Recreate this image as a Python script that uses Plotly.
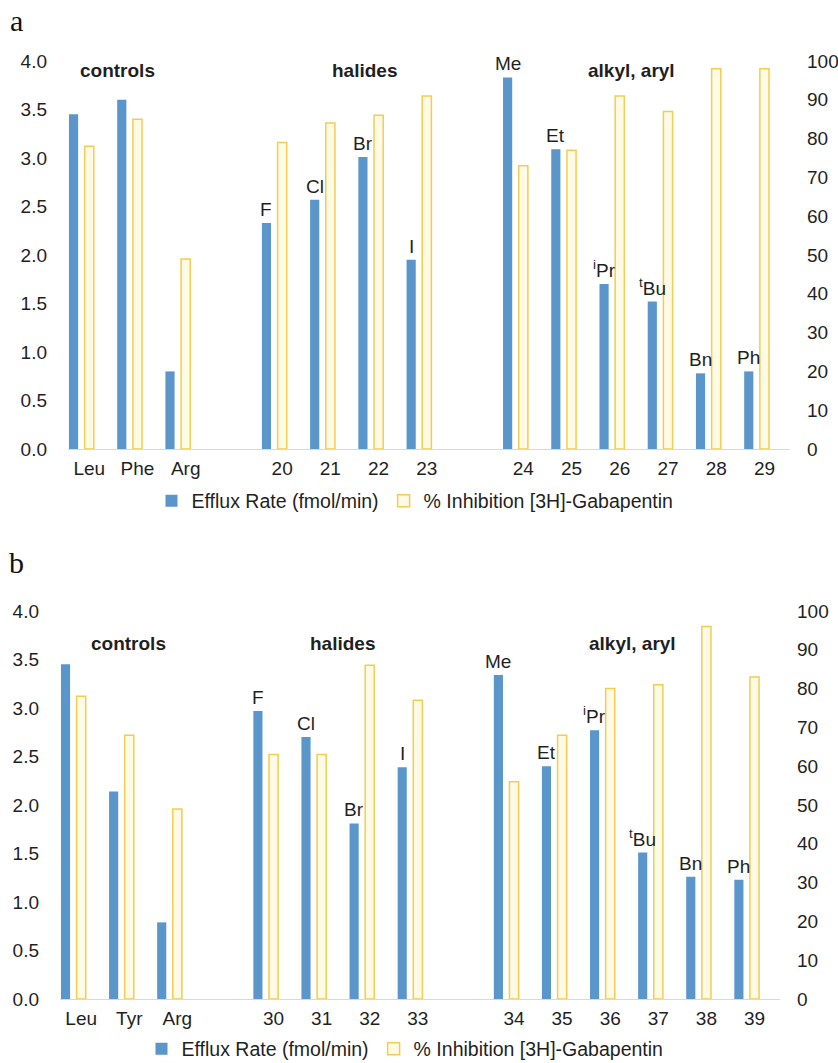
import plotly.graph_objects as go

# ---------------- data ----------------
group_names = ["controls", "halides", "alkyl, aryl"]
group_sizes = [3, 4, 6]

labels_a = ["Leu", "Phe", "Arg", "20", "21", "22", "23", "24", "25", "26", "27", "28", "29"]
efflux_a = [3.45, 3.60, 0.80, 2.33, 2.57, 3.01, 1.95, 3.83, 3.09, 1.70, 1.52, 0.78, 0.80]
inhib_a = [78, 85, 49, 79, 84, 86, 91, 73, 77, 91, 87, 98, 98]
subst_a = ["", "", "", "F", "Cl", "Br", "I", "Me", "Et", "<sup>i</sup>Pr", "<sup>t</sup>Bu", "Bn", "Ph"]

labels_b = ["Leu", "Tyr", "Arg", "30", "31", "32", "33", "34", "35", "36", "37", "38", "39"]
efflux_b = [3.45, 2.14, 0.79, 2.97, 2.70, 1.81, 2.39, 3.34, 2.40, 2.77, 1.51, 1.26, 1.23]
inhib_b = [78, 68, 49, 63, 63, 86, 77, 56, 68, 80, 81, 96, 83]
subst_b = ["", "", "", "F", "Cl", "Br", "I", "Me", "Et", "<sup>i</sup>Pr", "<sup>t</sup>Bu", "Bn", "Ph"]

left_ticks = [0, 0.5, 1.0, 1.5, 2.0, 2.5, 3.0, 3.5, 4.0]
right_ticks = [0, 10, 20, 30, 40, 50, 60, 70, 80, 90, 100]

# ---------------- style ----------------
W, H = 838, 1063
FONT = "Liberation Sans, Arial, sans-serif"
TXT = "#1f1f1f"
BLUE = "#5b96cb"
GOLD = "#f2cd52"
GOLD_FILL = "#fffae6"
BLUE_SHIFT = -0.325   # blue bar centre relative to category centre


def cat_array(labels):
    arr, i = [], 0
    for k, n in enumerate(group_sizes):
        arr += labels[i:i + n]
        i += n
        if k < len(group_sizes) - 1:
            arr.append("_gap%d" % k)
    return arr


fig = go.Figure()

panels = [
    dict(labels=labels_a, eff=efflux_a, inh=inhib_a, sub=subst_a,
         xa="x", ya="y", ya2="y2", legend="legend"),
    dict(labels=labels_b, eff=efflux_b, inh=inhib_b, sub=subst_b,
         xa="x2", ya="y3", ya2="y4", legend="legend2"),
]

for p in panels:
    fig.add_trace(go.Bar(
        x=p["labels"], y=p["eff"], name="Efflux Rate (fmol/min)",
        xaxis=p["xa"], yaxis=p["ya"], legend=p["legend"],
        marker=dict(color=BLUE, line=dict(width=0)),
        width=0.19, offset=BLUE_SHIFT - 0.095, cliponaxis=False,
    ))
    fig.add_trace(go.Bar(
        x=p["labels"], y=p["inh"], name="% Inhibition [3H]-Gabapentin",
        xaxis=p["xa"], yaxis=p["ya2"], legend=p["legend"],
        marker=dict(color=GOLD_FILL, line=dict(color=GOLD, width=1.5)),
        width=0.19, offset=-0.095, cliponaxis=False,
    ))

annotations = []
for p in panels:
    cats = cat_array(p["labels"])
    for lab, val, s in zip(p["labels"], p["eff"], p["sub"]):
        if s:
            annotations.append(dict(
                x=cats.index(lab) + BLUE_SHIFT, y=val, xref=p["xa"], yref=p["ya"],
                text=s, showarrow=False, xanchor="center", yanchor="bottom",
                yshift=1, font=dict(family=FONT, size=19, color=TXT)))

group_pos_a = [(0.59, 3.90), (5.70, 3.90), (11.24, 3.90)]
group_pos_b = [(0.99, 3.67), (5.44, 3.67), (11.46, 3.67)]
for (xa, ya, gp) in [("x", "y", group_pos_a), ("x2", "y3", group_pos_b)]:
    for name, (gx, gy) in zip(group_names, gp):
        annotations.append(dict(
            x=gx, y=gy, xref=xa, yref=ya, text="<b>%s</b>" % name,
            showarrow=False, xanchor="center", yanchor="middle",
            font=dict(family=FONT, size=19, color=TXT)))

for t, yy in [("a", 20), ("b", 562)]:
    annotations.append(dict(
        x=16 / W, y=1 - yy / H, xref="paper", yref="paper", text=t,
        showarrow=False, xanchor="center", yanchor="middle",
        font=dict(family="Liberation Serif, Times New Roman, serif", size=30, color="#111")))


def xaxis(domain, labels, anchor):
    return dict(domain=domain, anchor=anchor, type="category",
                categoryorder="array", categoryarray=cat_array(labels),
                tickmode="array", tickvals=labels, ticktext=labels,
                range=[-0.44, 14.53], showline=True, linecolor="#d9d9d9",
                linewidth=1, ticks="", showgrid=False, zeroline=False,
                tickfont=dict(family=FONT, size=19, color=TXT),
                ticklabelstandoff=2, fixedrange=True, automargin=False)


def yleft(domain, anchor):
    return dict(domain=domain, anchor=anchor, range=[0, 4], tickvals=left_ticks,
                tickformat=".1f", showgrid=False, zeroline=False, showline=False,
                ticks="", tickfont=dict(family=FONT, size=19, color=TXT),
                ticklabelstandoff=20, fixedrange=True, automargin=False)


def yright(overlay, anchor):
    return dict(overlaying=overlay, anchor=anchor, side="right", range=[0, 100],
                tickvals=right_ticks, showgrid=False, zeroline=False,
                showline=False, ticks="",
                tickfont=dict(family=FONT, size=19, color=TXT),
                ticklabelstandoff=16, fixedrange=True, automargin=False)


fig.update_layout(
    width=W, height=H,
    margin=dict(l=0, r=0, t=0, b=0, autoexpand=False),
    paper_bgcolor="white", plot_bgcolor="white",
    barmode="overlay",
    font=dict(family=FONT, size=19, color=TXT),
    xaxis=xaxis([68 / W, 790 / W], labels_a, "y"),
    yaxis=yleft([1 - 449 / H, 1 - 61 / H], "x"),
    yaxis2=yright("y", "x"),
    xaxis2=xaxis([60 / W, 780 / W], labels_b, "y3"),
    yaxis3=yleft([1 - 999 / H, 1 - 611 / H], "x2"),
    yaxis4=yright("y3", "x2"),
    legend=dict(orientation="h", x=415 / W, xanchor="center",
                y=1 - 501 / H, yanchor="middle",
                font=dict(family=FONT, size=19.5, color=TXT),
                bgcolor="rgba(0,0,0,0)"),
    legend2=dict(orientation="h", x=405 / W, xanchor="center",
                 y=1 - 1049 / H, yanchor="middle",
                 font=dict(family=FONT, size=19.5, color=TXT),
                 bgcolor="rgba(0,0,0,0)"),
    annotations=annotations,
    showlegend=True,
)

fig.write_html("out.html", config={"displayModeBar": False},
               post_script="document.body.style.margin='0';")
